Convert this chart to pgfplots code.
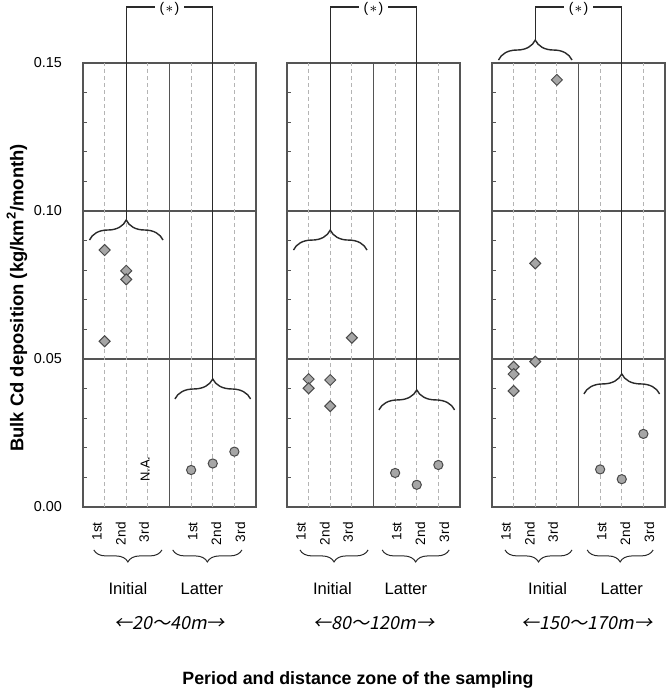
\documentclass[border=0pt]{standalone}
\usepackage{fontspec}
\setmainfont{Liberation Sans}
\newfontfamily\jp{Noto Sans CJK JP}
\newfontfamily\jpit[FakeSlant=0.2]{Noto Sans CJK JP}
\usepackage{pgfplots}
\pgfplotsset{compat=1.18}
\usetikzlibrary{decorations.pathreplacing}
\definecolor{axgray}{HTML}{555555}
\definecolor{dashgray}{HTML}{B4B4B4}
\definecolor{mfill}{HTML}{A6A6A6}
\definecolor{medge}{HTML}{4A4A4A}
\definecolor{linec}{HTML}{2A2A2A}

\tikzset{
  upbrace/.style={decorate, decoration={brace, amplitude=10pt}, draw=linec, line width=0.7pt},
  lowbrace/.style={decorate, decoration={brace, amplitude=6pt}, draw=linec, line width=0.5pt},
  bracket/.style={draw=linec, line width=0.7pt},
  star/.style={fill=white, inner xsep=2.5pt, inner ysep=0pt, yshift=-1pt, font=\fontsize{7}{8}\selectfont},
}

\pgfplotsset{
  panel/.style={
    scale only axis, width=86.5pt, height=222pt, anchor=south west,
    xmin=0, xmax=8, ymin=0, ymax=0.15, clip=false,
    axis line style={draw=axgray, line width=0.6pt},
    xtick={0.65,1.75,2.82,5.08,6.16,7.27},
    xticklabels={1st,2nd,3rd,1st,2nd,3rd},
    xtick style={draw=none},
    xticklabel style={rotate=90, anchor=east, inner sep=0pt, font=\fontsize{6.8}{8}\selectfont},
    xticklabel shift=7.5pt,
    extra x ticks={1,2,3,5,6,7}, extra x tick labels={},
    extra x tick style={grid=major, major tick length=0pt,
      major grid style={dash pattern=on 2pt off 1.5pt, draw=dashgray, line width=0.5pt}},
    ytick={0,0.05,0.1,0.15}, ymajorgrids,
    major grid style={solid, draw=axgray, line width=0.6pt},
    minor y tick num=4, ytick pos=left, tick align=inside,
    major tick length=2pt, minor tick length=2pt,
    ytick style={draw=axgray, line width=0.6pt},
    minor tick style={draw=axgray, line width=0.6pt},
    yticklabels={},
  },
  ini/.style={only marks, mark=square*, mark size=1.95pt,
    mark options={fill=mfill, draw=medge, line width=0.5pt, rotate=45}},
  lat/.style={only marks, mark=*, mark size=2.3pt,
    mark options={fill=mfill, draw=medge, line width=0.5pt}},
}

\begin{document}
\begin{tikzpicture}

% ---------- 20-40 m ----------
\begin{axis}[panel, at={(41.5pt,-253.5pt)},
  yticklabels={0.00,0.05,0.10,0.15},
  yticklabel style={font=\fontsize{7.2}{8}\selectfont},
  yticklabel shift=7pt]
  \draw[axgray, line width=0.6pt] (4,0) -- (4,0.15);
  \addplot[ini] coordinates {(1,0.0868) (1,0.0560) (2,0.0798) (2,0.0769)};
  \addplot[lat] coordinates {(5,0.0125) (6,0.0147) (7,0.0187)};
  \node[rotate=90, font=\fontsize{6.5}{7}\selectfont] at (2.87,0.0128) {N.A.};
  \draw[upbrace] (0.3,0.0902) -- (3.7,0.0902);
  \draw[upbrace] (4.25,0.0365) -- (7.75,0.0365);
  \draw[bracket] (2,0.0970) -- (2,0.1689) -- (6,0.1689) -- (6,0.0432);
  \node[star] at (4,0.1689) {(\kern0.5pt$\ast$\kern0.5pt)};
  \draw[lowbrace] (3.65,-0.0145) -- (0.5,-0.0145);
  \draw[lowbrace] (7.35,-0.0145) -- (4.15,-0.0145);
  \node[font=\fontsize{8.3}{9}\selectfont] at (2.08,-0.0277) {Initial};
  \node[font=\fontsize{8.3}{9}\selectfont] at (5.5,-0.0277) {Latter};
  \node[font=\jpit\fontsize{9}{10}\selectfont] at (4.0,-0.0392) {←20〜40m→};
\end{axis}

% ---------- 80-120 m ----------
\begin{axis}[panel, at={(143.5pt,-253.5pt)}]
  \draw[axgray, line width=0.6pt] (4,0) -- (4,0.15);
  \addplot[ini] coordinates {(1,0.0432) (1,0.0401) (2,0.0429) (2,0.0341) (3,0.0572)};
  \addplot[lat] coordinates {(5,0.0115) (6,0.0075) (7,0.0142)};
  \draw[upbrace] (0.3,0.0868) -- (3.7,0.0868);
  \draw[upbrace] (4.25,0.0328) -- (7.75,0.0328);
  \draw[bracket] (2,0.0936) -- (2,0.1689) -- (6,0.1689) -- (6,0.0395);
  \node[star] at (4,0.1689) {(\kern0.5pt$\ast$\kern0.5pt)};
  \draw[lowbrace] (3.75,-0.0145) -- (0.6,-0.0145);
  \draw[lowbrace] (7.5,-0.0145) -- (4.4,-0.0145);
  \node[font=\fontsize{8.3}{9}\selectfont] at (2.1,-0.0277) {Initial};
  \node[font=\fontsize{8.3}{9}\selectfont] at (5.5,-0.0277) {Latter};
  \node[font=\jpit\fontsize{9}{10}\selectfont] at (4.03,-0.0392) {←80〜120m→};
\end{axis}

% ---------- 150-170 m ----------
\begin{axis}[panel, at={(246pt,-253.5pt)}]
  \draw[axgray, line width=0.6pt] (4,0) -- (4,0.15);
  \addplot[ini] coordinates {(1,0.0474) (1,0.0449) (1,0.0392) (2,0.0823) (2,0.0491) (3,0.1443)};
  \addplot[lat] coordinates {(5,0.0127) (6,0.0094) (7,0.0247)};
  \draw[upbrace] (0.3,0.1510) -- (3.7,0.1510);
  \draw[upbrace] (4.25,0.0382) -- (7.75,0.0382);
  \draw[bracket] (2,0.1578) -- (2,0.1689) -- (6,0.1689) -- (6,0.0449);
  \node[star] at (4,0.1689) {(\kern0.5pt$\ast$\kern0.5pt)};
  \draw[lowbrace] (3.7,-0.0145) -- (0.6,-0.0145);
  \draw[lowbrace] (7.45,-0.0145) -- (4.4,-0.0145);
  \node[font=\fontsize{8.3}{9}\selectfont] at (2.57,-0.0277) {Initial};
  \node[font=\fontsize{8.3}{9}\selectfont] at (6.0,-0.0277) {Latter};
  \node[font=\jpit\fontsize{9}{10}\selectfont] at (4.4,-0.0392) {←150〜170m→};
\end{axis}

\node[rotate=90, font=\bfseries\fontsize{9.2}{10}\selectfont] at (8.5pt,-149pt)
  {Bulk Cd deposition (kg/km\textsuperscript{2}/month)};
\node[font=\bfseries\fontsize{8.9}{10}\selectfont] at (179pt,-340pt)
  {Period and distance zone of the sampling};

\pgfresetboundingbox
\useasboundingbox (0,0) rectangle (332.5pt,-344.5pt);
\end{tikzpicture}
\end{document}
